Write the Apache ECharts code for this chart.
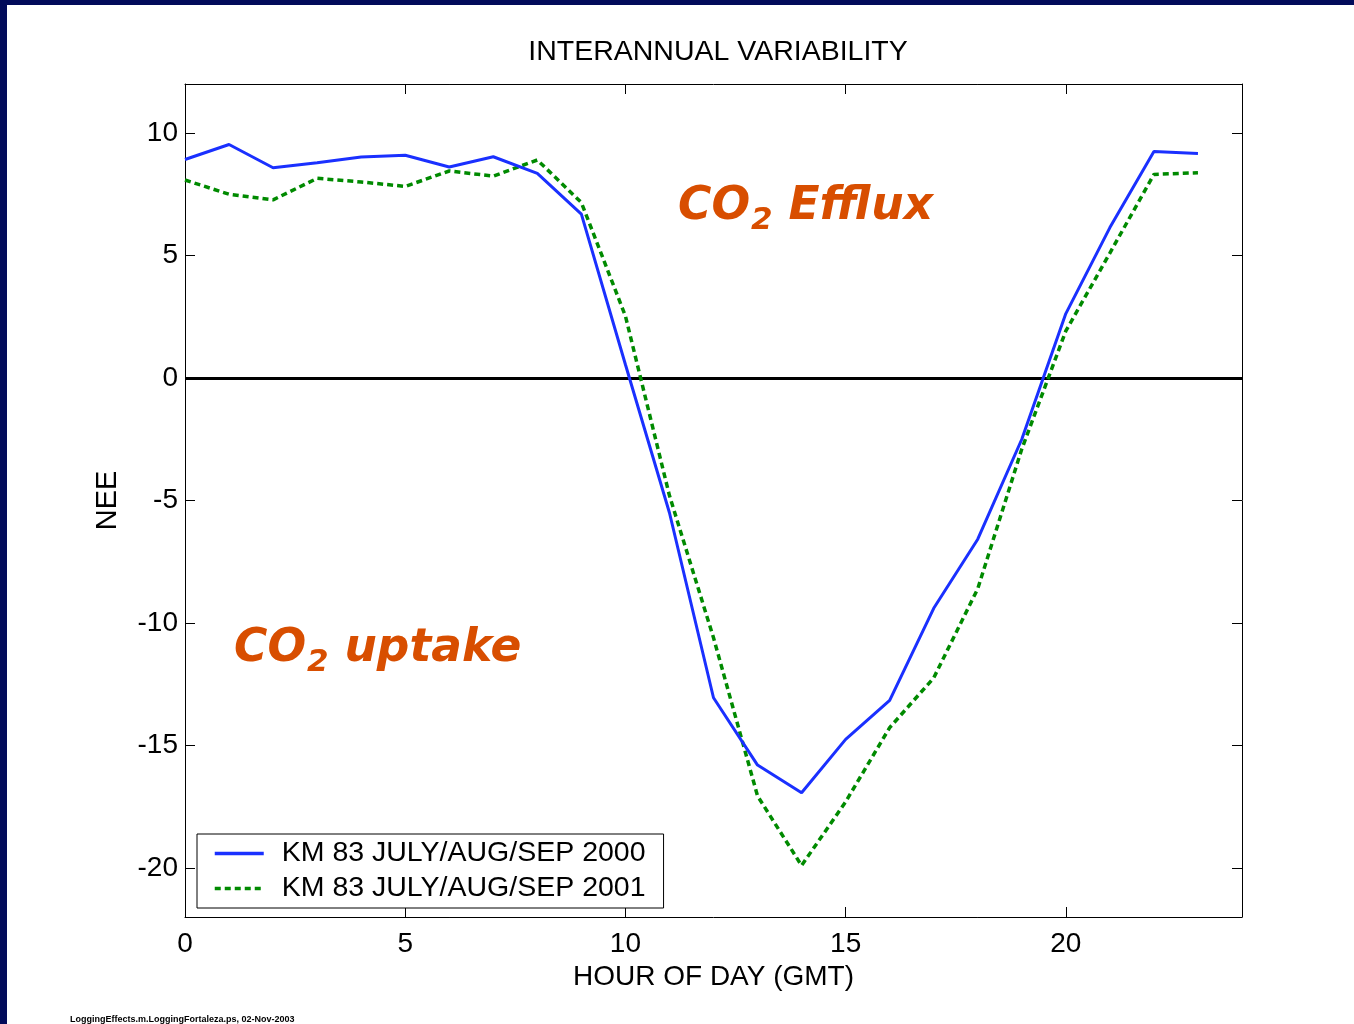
<!DOCTYPE html>
<html>
<head>
<meta charset="utf-8">
<script src="https://cdn.jsdelivr.net/npm/echarts@6/dist/echarts.min.js"></script>
<style>
  html, body { margin: 0; padding: 0; background: #fff; }
  #chart { position: absolute; left: 0; top: 0; width: 1354px; height: 1024px; }
  .bl { position: absolute; left: 0; top: 0; width: 7px; height: 1024px; background: #020b5a; z-index: 5; }
  .bt { position: absolute; left: 0; top: 0; width: 1354px; height: 5px; background: #020b5a; z-index: 5; }
</style>
</head>
<body>
<div id="chart"></div>
<div class="bl"></div>
<div class="bt"></div>
<script>
const hours = [0,1,2,3,4,5,6,7,8,9,10,11,12,13,14,15,16,17,18,19,20,21,22,23];
const nee2000 = [8.92,9.53,8.58,8.79,9.02,9.09,8.61,9.03,8.35,6.69,0.55,-5.5,-13.05,-15.8,-16.93,-14.75,-13.16,-9.4,-6.58,-2.5,2.63,6.14,9.24,9.16];
const nee2001 = [8.08,7.5,7.27,8.15,8.0,7.82,8.45,8.24,8.9,7.16,2.53,-4.8,-10.6,-17.06,-19.9,-17.3,-14.27,-12.24,-8.6,-2.9,1.92,5.1,8.31,8.38];
const seriesNames = ['KM 83 JULY/AUG/SEP 2000', 'KM 83 JULY/AUG/SEP 2001'];
const xTicks = [0,5,10,15,20];
const yTicks = [-20,-15,-10,-5,0,5,10];

const FONT = 'Liberation Sans, Arial, sans-serif';
const pairs = (vals) => hours.map((h, i) => [h, vals[i]]);

const chart = echarts.init(document.getElementById('chart'), null, { renderer: 'canvas' });

const axisCommon = {
  axisLine: { show: true, onZero: false, lineStyle: { color: '#000', width: 1 } },
  axisTick: { show: true, inside: true, length: 10, lineStyle: { color: '#000', width: 1 } },
  splitLine: { show: false }
};

// annotation text: CO + subscript 2 + rest, laid out with measured widths
const ANN_COLOR = '#d84e00';
const MAIN_FONT = 'italic bold 45.5px "DejaVu Sans"';
const SUB_FONT = 'italic bold 31px "DejaVu Sans"';
const mctx = document.createElement('canvas').getContext('2d');
function measure(font, txt) { mctx.font = font; return mctx.measureText(txt).width; }
function annotation(x, yMid, rest) {
  const w1 = measure(MAIN_FONT, 'CO');
  const w2 = measure(SUB_FONT, '2');
  return [
    { type: 'text', x: x, y: yMid, style: { text: 'CO', font: MAIN_FONT, fill: ANN_COLOR, verticalAlign: 'middle' } },
    { type: 'text', x: x + w1 + 1, y: yMid + 13.5, style: { text: '2', font: SUB_FONT, fill: ANN_COLOR, verticalAlign: 'middle' } },
    { type: 'text', x: x + w1 + 1 + w2, y: yMid, style: { text: ' ' + rest, font: MAIN_FONT, fill: ANN_COLOR, verticalAlign: 'middle' } }
  ];
}

chart.setOption({
  backgroundColor: '#fff',
  animation: false,
  title: {
    text: 'INTERANNUAL VARIABILITY',
    left: 713, top: 33, textAlign: 'center',
    textStyle: { fontFamily: FONT, fontSize: 28.5, fontWeight: 'normal', color: '#000' }
  },
  grid: { left: 185, right: 112, top: 84, bottom: 107, outerBoundsMode: 'none', containLabel: false },
  legend: {
    orient: 'vertical', left: 197, top: 834,
    data: seriesNames,
    backgroundColor: '#fff', borderColor: '#000', borderWidth: 1,
    padding: [5, 18, 5, 16], itemGap: 6, itemWidth: 49, itemHeight: 14,
    itemStyle: { opacity: 0, borderWidth: 0 },
    lineStyle: { width: 3.5 },
    textStyle: { fontFamily: FONT, fontSize: 28.5, color: '#000', padding: [0, 0, 0, 13] }
  },
  xAxis: [
    Object.assign({}, axisCommon, {
      type: 'value', position: 'bottom', min: 0, max: 24,
      name: 'HOUR OF DAY (GMT)', nameLocation: 'middle', nameGap: 43,
      nameTextStyle: { fontFamily: FONT, fontSize: 28, color: '#000' },
      axisTick: Object.assign({}, axisCommon.axisTick, { customValues: xTicks }),
      axisLabel: { customValues: xTicks, margin: 13, fontFamily: FONT, fontSize: 28, color: '#000' }
    }),
    Object.assign({}, axisCommon, {
      type: 'value', position: 'top', min: 0, max: 24,
      axisTick: Object.assign({}, axisCommon.axisTick, { customValues: xTicks }),
      axisLabel: { show: false }
    })
  ],
  yAxis: [
    Object.assign({}, axisCommon, {
      type: 'value', position: 'left', min: -22, max: 12,
      name: 'NEE', nameLocation: 'middle', nameGap: 63,
      nameTextStyle: { fontFamily: FONT, fontSize: 29, color: '#000' },
      axisTick: Object.assign({}, axisCommon.axisTick, { customValues: yTicks }),
      axisLabel: { customValues: yTicks, margin: 7, fontFamily: FONT, fontSize: 28, color: '#000' }
    }),
    Object.assign({}, axisCommon, {
      type: 'value', position: 'right', min: -22, max: 12,
      axisTick: Object.assign({}, axisCommon.axisTick, { customValues: yTicks }),
      axisLabel: { show: false }
    })
  ],
  series: [
    {
      name: seriesNames[0], type: 'line', data: pairs(nee2000),
      symbol: 'none', z: 4,
      lineStyle: { color: '#1a30ff', width: 3 },
      itemStyle: { color: '#1a30ff' },
      markLine: {
        silent: true, symbol: 'none', label: { show: false },
        lineStyle: { color: '#000', width: 3, type: 'solid' },
        data: [{ yAxis: 0 }],
        z: 2
      }
    },
    {
      name: seriesNames[1], type: 'line', data: pairs(nee2001),
      symbol: 'none', z: 3,
      lineStyle: { color: '#008a00', width: 3.5, type: [6, 4] },
      itemStyle: { color: '#008a00' }
    }
  ],
  graphic: [].concat(
    annotation(678, 207, 'Efflux'),
    annotation(234, 649, 'uptake'),
    [{
      type: 'text', x: 70, y: 1020,
      style: { text: 'LoggingEffects.m.LoggingFortaleza.ps, 02-Nov-2003', fontFamily: FONT, fontSize: 9, fontWeight: 'bold', fill: '#000', verticalAlign: 'middle' }
    }]
  )
});
</script>
</body>
</html>
